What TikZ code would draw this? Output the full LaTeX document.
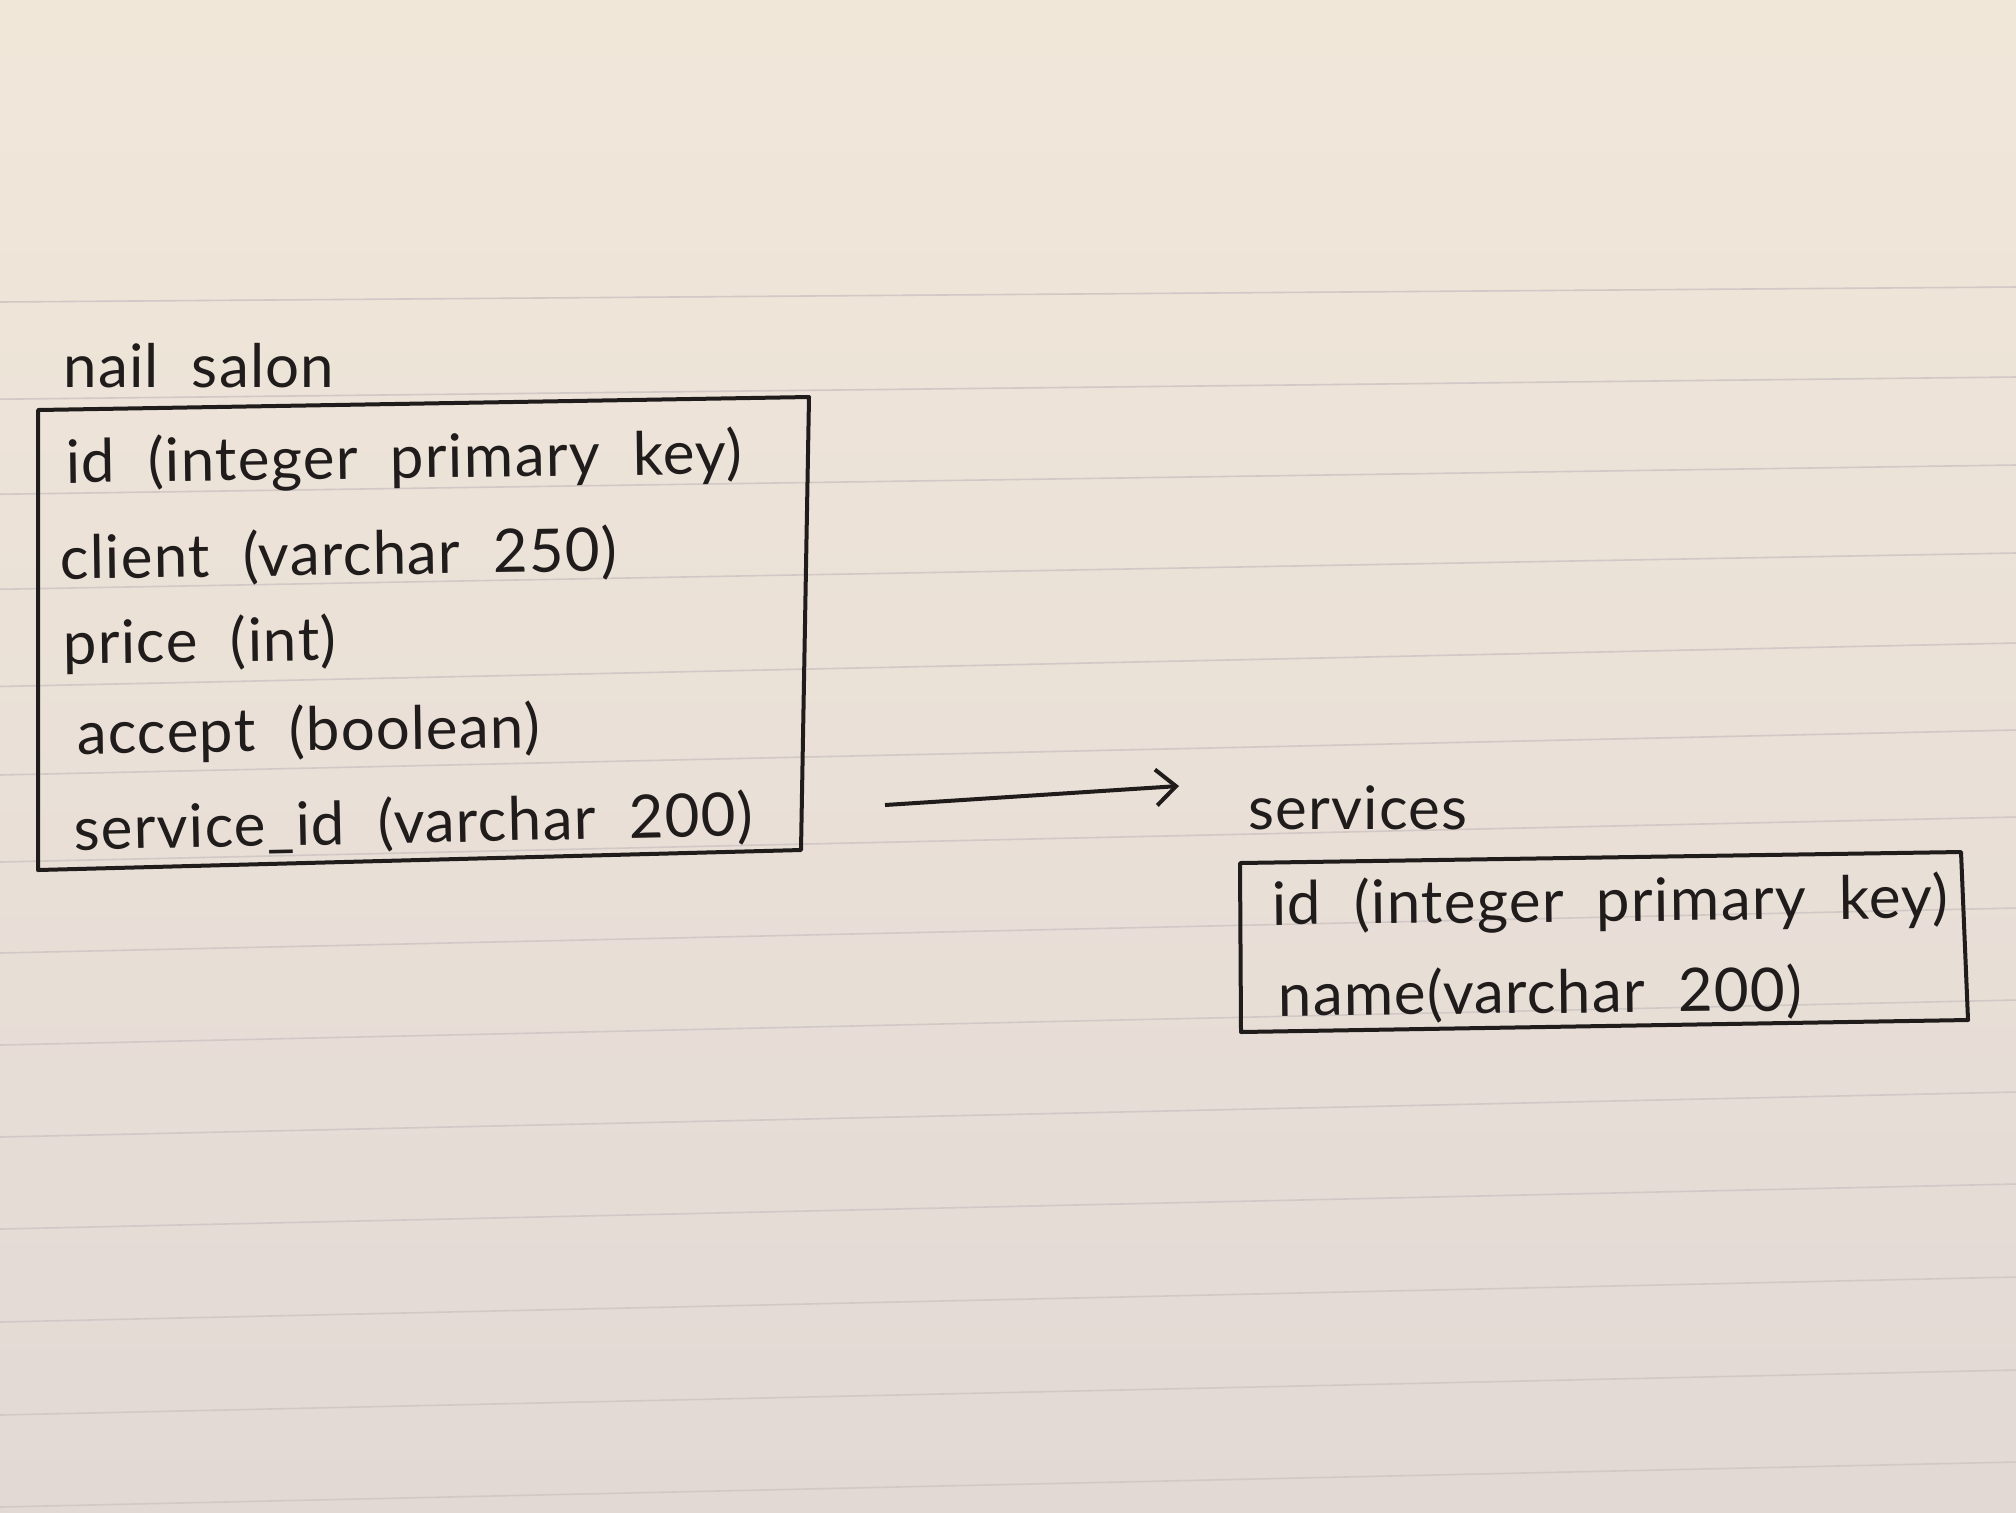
\documentclass[tikz,border=0pt]{standalone}
\usepackage{fontspec}
\usetikzlibrary{arrows.meta}
\newfontfamily\hand[LetterSpace=2,WordSpace=2]{Lato}
\definecolor{ink}{RGB}{32,28,28}
\definecolor{papertop}{RGB}{241,231,217}
\definecolor{papermid}{RGB}{237,226,222}
\definecolor{paperbot}{RGB}{226,217,213}
\definecolor{rule}{RGB}{210,200,198}
\begin{document}
\begin{tikzpicture}[x=0.5pt,y=-0.5pt,
  txt/.style={anchor=base west,inner sep=0pt,text=ink,font=\hand\fontsize{30}{36}\selectfont},
  boxline/.style={draw=ink,line width=2pt,line join=round},
  ruled/.style={draw=rule,line width=0.8pt}]
\useasboundingbox (0,0) rectangle (2016,1512);
\shade[top color=papertop,middle color=papermid,bottom color=paperbot] (0,0) rectangle (2016,1512);
% ruled paper lines (right-end y values, left ends slightly lower)
\foreach \r in {287,377,465,553,643,730,817,908,1000,1092,1184,1277,1370,1462}{
  \pgfmathsetmacro{\off}{min(45,15+(\r-287)*0.08)}
  \draw[ruled] (0,\r+\off) -- (2016,\r);
}
% left table
\node[txt] (t1) at (63,387) {nail salon};
\coordinate (L1) at (38,410);
\coordinate (L2) at (809,397);
\coordinate (L3) at (801,850);
\coordinate (L4) at (38,870);
\draw[boxline] (L1) -- (L2) -- (L3) -- (L4) -- cycle;
\node[txt,rotate=0.8] (a1) at (66,483) {id (integer primary key)};
\node[txt,rotate=0.8] (a2) at (60,579) {client (varchar 250)};
\node[txt,rotate=0.8] (a3) at (63,664) {price (int)};
\node[txt,rotate=0.8] (a4) at (77,754) {accept (boolean)};
\node[txt,rotate=1.2] (a5) at (74,850) {service\_id (varchar 200)};
% right table
\node[txt] (t2) at (1248,829) {services};
\coordinate (R1) at (1240,863);
\coordinate (R2) at (1961,852);
\coordinate (R3) at (1968,1020);
\coordinate (R4) at (1241,1032);
\draw[boxline] (R1) -- (R2) -- (R3) -- (R4) -- cycle;
\node[txt,rotate=0.6] (b1) at (1272,925) {id (integer primary key)};
\node[txt,rotate=0.6] (b2) at (1278,1016) {name(varchar 200)};
% arrow
\coordinate (aS) at (885,805);
\coordinate (aE) at (1179,786);
\draw[draw=ink,line width=2pt,-{Straight Barb[length=10pt,width=18pt,line width=2pt]}] (aS) -- (aE);
\end{tikzpicture}
\end{document}
